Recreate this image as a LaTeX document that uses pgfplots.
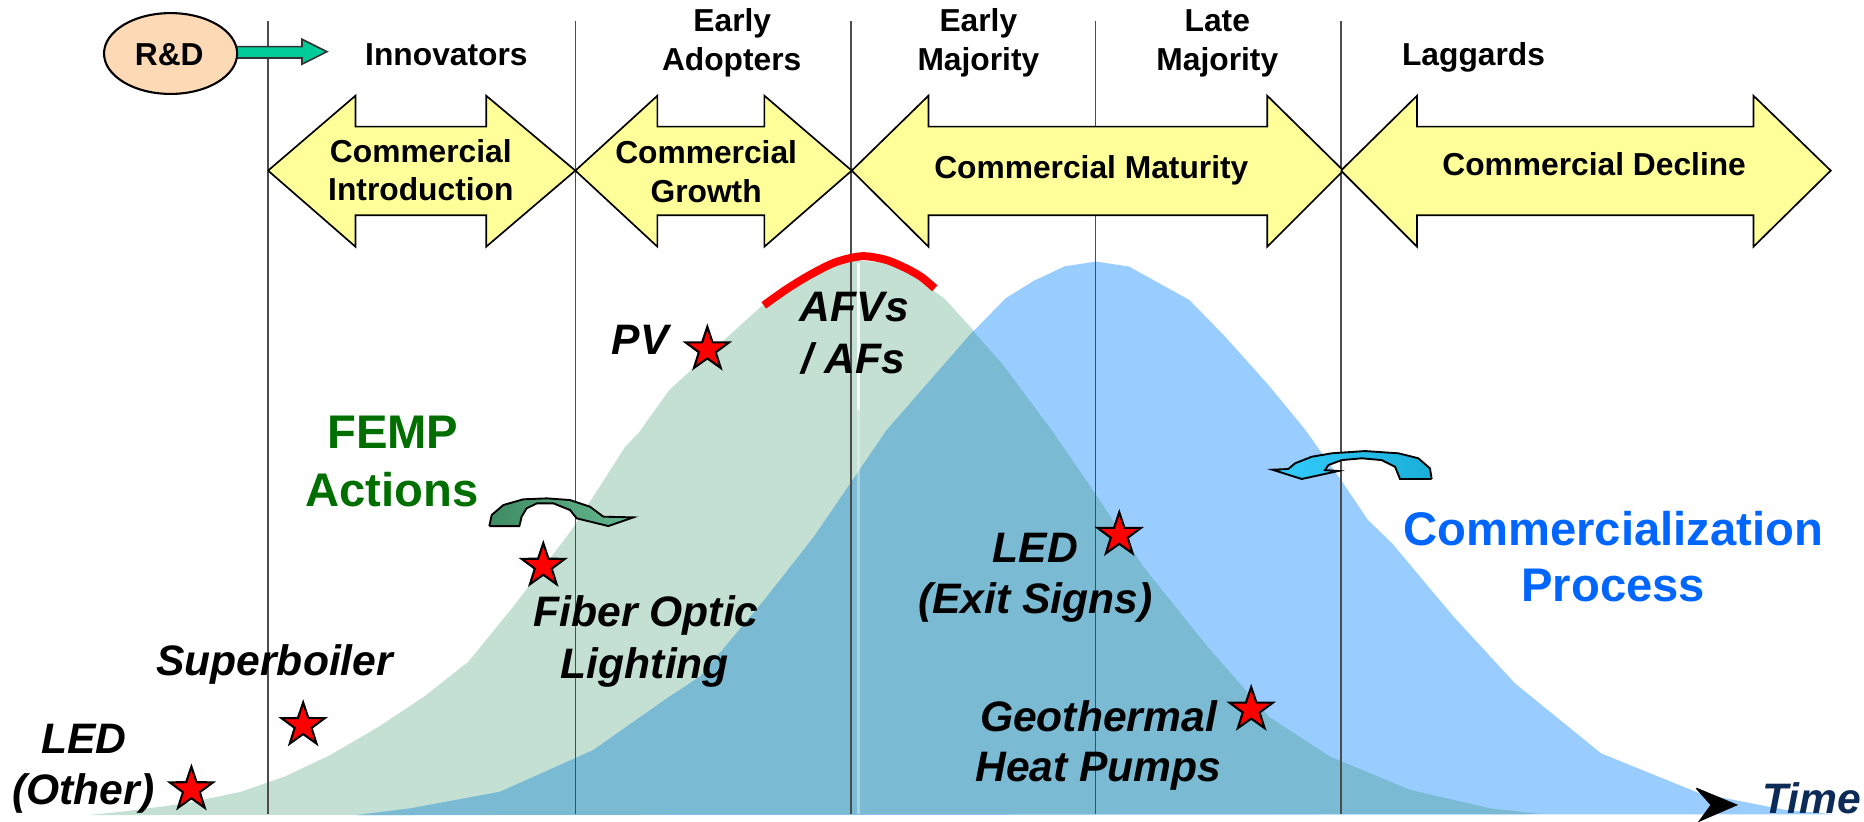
\documentclass[border=0pt]{standalone}
\usepackage{fontspec}
\setmainfont{Liberation Sans}
\usepackage{pgfplots}
\pgfplotsset{compat=1.18}
\definecolor{greenA}{HTML}{C3E0D3}
\definecolor{blueA}{HTML}{99CCFF}
\definecolor{overA}{HTML}{7ABBD3}
\definecolor{yel}{HTML}{FFFF99}
\definecolor{peach}{HTML}{FDD9B5}
\definecolor{teal}{HTML}{00CC99}
\definecolor{femp}{HTML}{006F00}
\definecolor{comm}{HTML}{0066FF}
\definecolor{cgreenL}{HTML}{3F8C64}
\definecolor{cgreenR}{HTML}{66B890}
\definecolor{cblueL}{HTML}{33CCFF}
\definecolor{cblueR}{HTML}{1AAFD6}
\definecolor{navy}{HTML}{0D2B57}
\pgfdeclareplotmark{fstar}{%
 \pgfpathmoveto{\pgfpointpolar{90}{\pgfplotmarksize}}%
 \pgfpathlineto{\pgfpointpolar{126}{0.39\pgfplotmarksize}}%
 \pgfpathlineto{\pgfpointpolar{162}{\pgfplotmarksize}}%
 \pgfpathlineto{\pgfpointpolar{198}{0.39\pgfplotmarksize}}%
 \pgfpathlineto{\pgfpointpolar{234}{\pgfplotmarksize}}%
 \pgfpathlineto{\pgfpointpolar{270}{0.39\pgfplotmarksize}}%
 \pgfpathlineto{\pgfpointpolar{306}{\pgfplotmarksize}}%
 \pgfpathlineto{\pgfpointpolar{342}{0.39\pgfplotmarksize}}%
 \pgfpathlineto{\pgfpointpolar{18}{\pgfplotmarksize}}%
 \pgfpathlineto{\pgfpointpolar{54}{0.39\pgfplotmarksize}}%
 \pgfpathclose
 \pgfusepathqfillstroke
}
\newcommand{\topf}{\fontsize{7.6}{9}\selectfont\bfseries}
\newcommand{\itf}{\fontsize{10.2}{12}\selectfont\bfseries\itshape}
\newcommand{\bigf}{\fontsize{11.3}{13}\selectfont\bfseries}
\begin{document}
\begin{tikzpicture}
\begin{axis}[
  width=15.68cm, height=6.91cm, scale only axis,
  xmin=0, xmax=1568, ymin=0, ymax=691, y dir=reverse,
  axis lines=none, clip=false,
]
% green adoption curve
\addplot[fill=greenA, draw=none] coordinates {
 (75,685.6) (100,683) (140,678) (160,675) (202.8,666) (240,653) (278,635) (319,611)
 (356.7,586) (394,556.6) (432,510) (480.7,446) (504.7,409) (525.7,376) (537,364.4)
 (563,328) (585,308) (640,258) (682,231) (700,223) (720,219) (745,221) (762,228)
 (794.4,251) (818.5,277.5) (842.6,305.5) (884.5,361.6) (923,417.7) (961.7,476.6)
 (1015.8,544) (1067.5,603) (1119,636.5) (1186.5,664.5) (1253.7,680) (1295,684.5)
};
% blue commercialization curve
\addplot[fill=blueA, draw=none] coordinates {
 (300,685.6) (345,680) (420.6,666) (499,631) (563,586) (589,569) (643,504.6)
 (685,451) (746,361.6) (818.5,279) (845.9,250.9) (870,236) (895.7,224) (922,220)
 (949.7,224.2) (1000.4,252.3) (1030.4,283) (1068,325) (1098,361.6) (1128,403.7)
 (1150.6,437.3) (1171,457) (1222.7,518.7) (1274.4,574.8) (1346.8,633.7)
 (1429.6,667.3) (1502,681.3) (1543,685)
};
% overlap
\addplot[fill=overA, draw=none] coordinates {
 (300,685.6) (345,680) (420.6,666) (499,631) (563,586) (589,569) (643,504.6)
 (685,451) (746,361.6) (818.5,278.5) (842.6,305.5) (884.5,361.6) (923,417.7)
 (961.7,476.6) (1015.8,544) (1067.5,603) (1119,636.5) (1186.5,664.5)
 (1253.7,680) (1295,684.5)
};
% light seam at the peak
\addplot[white, line width=0.6pt, opacity=0.85] coordinates {(722,221) (722,345)};
\addplot[white, line width=0.6pt, opacity=0.35] coordinates {(722,345) (722,685)};
% vertical phase lines
\addplot[black!70, line width=0.4pt] coordinates {(225.5,18) (225.5,685)};
\addplot[black!70, line width=0.4pt] coordinates {(484,18) (484,685)};
\addplot[black!70, line width=0.4pt] coordinates {(716,18) (716,685)};
\addplot[black!70, line width=0.4pt] coordinates {(921.5,18) (921.5,685)};
\addplot[black!70, line width=0.4pt] coordinates {(1128,18) (1128,685)};
% red arc (AFVs / AFs)
\addplot[red, line width=1.9pt, smooth] coordinates {
 (642.5,256.8) (662,243) (681.7,231) (703,220.5) (725,215.5) (745,218.5) (762,225.6) (775,233) (786.3,242.5)};
% yellow double arrows
\addplot[fill=yel, draw=black, line width=0.4pt] coordinates {
 (225.5,143.5) (299,80.5) (299,106.5) (409,106.5) (409,80.5) (484,143.5) (409,207.5) (409,181) (299,181) (299,207.5) (225.5,143.5)};
\addplot[fill=yel, draw=black, line width=0.4pt] coordinates {
 (484,143.5) (553,80.5) (553,106.5) (643,106.5) (643,80.5) (716.5,143.5) (643,207.5) (643,181) (553,181) (553,207.5) (484,143.5)};
\addplot[fill=yel, draw=black, line width=0.4pt] coordinates {
 (716.5,143.5) (781,80.5) (781,106.5) (1066,106.5) (1066,80.5) (1130,143.5) (1066,207.5) (1066,181) (781,181) (781,207.5) (716.5,143.5)};
\addplot[fill=yel, draw=black, line width=0.4pt] coordinates {
 (1128,143.5) (1192,80.5) (1192,106.5) (1475,106.5) (1475,80.5) (1540,143.5) (1475,207.5) (1475,181) (1192,181) (1192,207.5) (1128,143.5)};
% R&D arrow
\addplot[fill=teal, draw=black!80, line width=0.4pt] coordinates {
 (197,39.2) (254,39.2) (254,33) (275,43.5) (254,54) (254,48.8) (197,48.8) (197,39.2)};
% FEMP curved arrow
\addplot[left color=cgreenL, right color=cgreenR, draw=black, line width=0.45pt] coordinates {
 (411.6,442.5) (413.6,433.2) (423.4,424.8) (440.2,420) (459.9,419.2) (479.5,420.6)
 (496.3,426.2) (507.5,434.6) (532.8,435.2) (511.7,442.5) (485.1,436)
 (479.5,429) (465.5,423.4) (451.5,423.4) (443,427.6) (438.8,434.6) (436.9,442.5) (411.6,442.5)};
% commercialization curved arrow
\addplot[left color=cblueL, right color=cblueR, draw=black, line width=0.45pt] coordinates {
 (1204.3,402.9) (1202.9,394) (1193.1,385.5) (1176.3,381.3) (1148.2,379.4) (1120.2,381.3)
 (1103.4,384.2) (1089.4,389.7) (1083.7,394.5) (1070.3,395.1) (1095,402.9) (1125.8,396.2)
 (1114.6,395.4) (1117.4,391.2) (1128.6,387) (1145.5,385.5) (1162.3,387) (1173.5,392.6)
 (1177.7,402.9) (1204.3,402.9)};
% Time arrowhead
\addplot[fill=black, draw=black, line width=0.3pt] coordinates {
 (1427,663.1) (1460.7,677.1) (1429.7,690.5) (1439.5,677.1) (1427,663.1)};
% stars
\addplot[only marks, mark=fstar, mark size=5.45pt,
  mark options={fill=red, draw=black, line width=0.5pt}] coordinates {
 (161,664) (255,610) (457,476) (595,294) (941.5,450) (1052.5,597)};
% R&D ellipse
\draw[fill=peach, draw=black, line width=0.5pt] (axis cs:143.5,45) ellipse [x radius=0.56cm, y radius=0.34cm];
\node[anchor=base, font=\topf] at (axis cs:142.4,54.7) {R\&D};
% top labels
\node[anchor=base, font=\topf] at (axis cs:375.5,54.7) {Innovators};
\node[anchor=base, font=\topf] at (axis cs:616,26.6) {Early};
\node[anchor=base, font=\topf] at (axis cs:615.5,58.9) {Adopters};
\node[anchor=base, font=\topf] at (axis cs:823,26.6) {Early};
\node[anchor=base, font=\topf] at (axis cs:823,58.9) {Majority};
\node[anchor=base, font=\topf] at (axis cs:1024,26.6) {Late};
\node[anchor=base, font=\topf] at (axis cs:1024,58.9) {Majority};
\node[anchor=base, font=\topf] at (axis cs:1239.5,55) {Laggards};
% arrow labels
\node[anchor=base, font=\topf] at (axis cs:354,137) {Commercial};
\node[anchor=base, font=\topf] at (axis cs:354,169) {Introduction};
\node[anchor=base, font=\topf] at (axis cs:594,137.5) {Commercial};
\node[anchor=base, font=\topf] at (axis cs:594,170) {Growth};
\node[anchor=base, font=\topf] at (axis cs:918,150) {Commercial Maturity};
\node[anchor=base, font=\topf] at (axis cs:1341,148) {Commercial Decline};
% technology labels
\node[anchor=base, font=\itf] at (axis cs:70.4,634) {LED};
\node[anchor=base, font=\itf] at (axis cs:70,677) {(Other)};
\node[anchor=base, font=\itf] at (axis cs:231,568) {Superboiler};
\node[anchor=base, font=\itf] at (axis cs:543.5,527) {Fiber Optic};
\node[anchor=base, font=\itf] at (axis cs:542.5,570.6) {Lighting};
\node[anchor=base, font=\itf] at (axis cs:538.5,298.5) {PV};
\node[anchor=base, font=\itf] at (axis cs:718.7,270.5) {AFVs};
\node[anchor=base, font=\itf] at (axis cs:717.9,314) {/ AFs};
\node[anchor=base, font=\itf] at (axis cs:871,473.3) {LED};
\node[anchor=base, font=\itf] at (axis cs:871,516) {(Exit Signs)};
\node[anchor=base, font=\itf] at (axis cs:924,615) {Geothermal};
\node[anchor=base, font=\itf] at (axis cs:924,657.5) {Heat Pumps};
\node[anchor=base, font=\itf, text=navy] at (axis cs:1524,684) {Time};
% big labels
\node[anchor=base, font=\bigf, text=femp] at (axis cs:330.5,377) {FEMP};
\node[anchor=base, font=\bigf, text=femp] at (axis cs:329.6,426) {Actions};
\node[anchor=base, font=\bigf, text=comm] at (axis cs:1357,458.5) {Commercialization};
\node[anchor=base, font=\bigf, text=comm] at (axis cs:1357,506) {Process};
\end{axis}
\pgfresetboundingbox
\path (current axis.south west) rectangle (current axis.north east);
\end{tikzpicture}
\end{document}
